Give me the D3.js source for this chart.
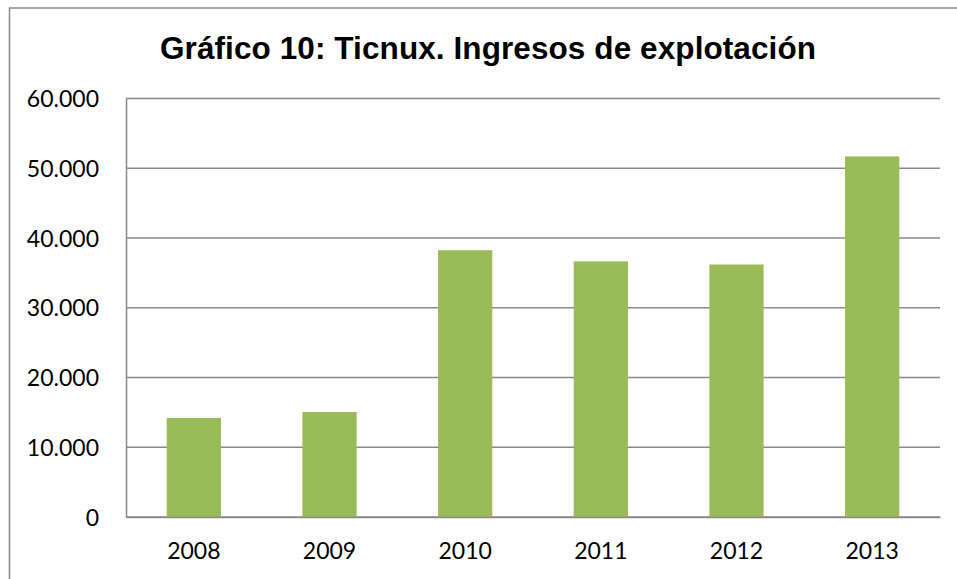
<!DOCTYPE html>
<html>
<head>
<meta charset="utf-8">
<script src="https://cdn.jsdelivr.net/npm/d3@7"></script>
<style>
  body { margin: 0; background: #fff; }
  .tick text { font-family: Lato, "Open Sans", sans-serif; font-size: 23px; fill: #000; }
</style>
</head>
<body>
<div id="chart"></div>
<script>
const years = ["2008", "2009", "2010", "2011", "2012", "2013"];
const ingresos = [14200, 15050, 38250, 36650, 36200, 51700];
const yTicks = [0, 10000, 20000, 30000, 40000, 50000, 60000];

const W = 957, H = 579;
const margin = {top: 98.5, right: 17, bottom: 62, left: 126};
const width = W - margin.left - margin.right;
const height = H - margin.top - margin.bottom;
const gridColor = "#898989";

const svg = d3.select("#chart").append("svg")
    .attr("width", W)
    .attr("height", H);

// outer chart frame (right and bottom fall outside the window)
svg.append("rect")
    .attr("x", 9.5).attr("y", 8)
    .attr("width", W).attr("height", H)
    .attr("fill", "none")
    .attr("stroke", gridColor)
    .attr("stroke-width", 1.5);

svg.append("text")
    .attr("x", 488).attr("y", 59)
    .attr("text-anchor", "middle")
    .attr("textLength", 656)
    .attr("lengthAdjust", "spacing")
    .style("font-family", "'Liberation Sans', Arial, sans-serif")
    .style("font-weight", "bold")
    .style("font-size", "31.5px")
    .text("Gráfico 10: Ticnux. Ingresos de explotación");

const g = svg.append("g")
    .attr("transform", `translate(${margin.left},${margin.top})`);

const x = d3.scaleBand().domain(years).range([0, width]).paddingInner(0.6).paddingOuter(0.3);
const y = d3.scaleLinear().domain([0, 60000]).range([height, 0]);
const fmt = d => d === 0 ? "0" : d3.format(",")(d).replace(/,/g, ".");

// gridlines
g.selectAll(".grid")
    .data(yTicks)
    .enter().append("line")
    .attr("class", "grid")
    .attr("x1", 0).attr("x2", width)
    .attr("y1", d => y(d)).attr("y2", d => y(d))
    .attr("stroke", gridColor)
    .attr("stroke-width", 1.5);

g.selectAll(".bar")
    .data(years)
    .enter().append("rect")
    .attr("class", "bar")
    .attr("x", d => x(d))
    .attr("width", x.bandwidth())
    .attr("y", (d, i) => y(ingresos[i]))
    .attr("height", (d, i) => height - y(ingresos[i]))
    .attr("fill", "#9BBB59");

const yAxis = g.append("g")
    .call(d3.axisLeft(y).tickValues(yTicks).tickFormat(fmt).tickSize(0).tickPadding(27));
yAxis.select(".domain").attr("stroke", gridColor).attr("stroke-width", 1.5);
yAxis.selectAll(".tick text").attr("dy", "0.35em");

const xAxis = g.append("g")
    .attr("transform", `translate(0,${height})`)
    .call(d3.axisBottom(x).tickSize(0).tickPadding(26));
xAxis.select(".domain").attr("stroke", gridColor).attr("stroke-width", 1.5);
</script>
</body>
</html>
